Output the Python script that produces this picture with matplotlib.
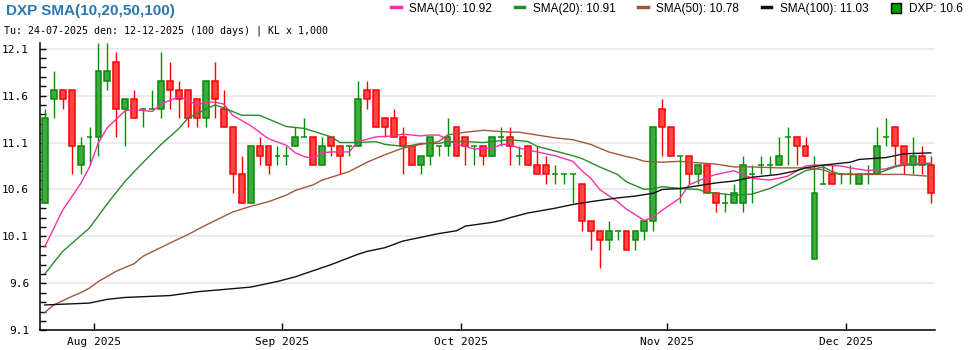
import numpy as np
import matplotlib
matplotlib.use('Agg')
import matplotlib.pyplot as plt
from matplotlib.lines import Line2D
from matplotlib.patches import Patch

# %% data: DXP daily candles, 24-07-2025 .. 12-12-2025 (100 trading days)
opens = [10.5, 11.6, 11.7, 11.7, 10.9, 11.2, 11.2, 11.8, 12.0, 11.5,
         11.6, 11.5, 11.5, 11.5, 11.8, 11.7, 11.7, 11.6, 11.4, 11.8,
         11.5, 11.3, 10.8, 10.5, 11.1, 11.1, 11.0, 11.0, 11.1, 11.2,
         11.2, 10.9, 11.2, 11.1, 11.1, 11.1, 11.7, 11.7, 11.4, 11.4,
         11.2, 11.1, 10.9, 11.0, 11.1, 11.1, 11.3, 11.2, 11.1, 11.1,
         11.0, 11.2, 11.2, 11.0, 11.1, 10.9, 10.9, 10.8, 10.8, 10.8,
         10.7, 10.3, 10.2, 10.1, 10.2, 10.2, 10.1, 10.2, 10.3, 11.5,
         11.3, 11.0, 11.0, 10.8, 10.9, 10.6, 10.5, 10.5, 10.5, 10.8,
         10.9, 10.9, 10.9, 11.2, 11.2, 11.1, 9.9, 10.7, 10.8, 10.8,
         10.8, 10.7, 10.8, 10.8, 11.2, 11.3, 11.1, 10.9, 11.0, 10.9]
highs = [11.5, 11.9, 11.7, 11.7, 11.2, 11.3, 12.2, 12.2, 12.1, 11.6,
         11.7, 11.5, 11.7, 12.1, 12.0, 11.8, 11.7, 11.6, 11.8, 12.0,
         11.7, 11.3, 11.0, 11.1, 11.2, 11.1, 11.1, 11.1, 11.3, 11.4,
         11.2, 11.2, 11.2, 11.1, 11.1, 11.8, 11.8, 11.7, 11.4, 11.5,
         11.3, 11.1, 11.0, 11.2, 11.1, 11.4, 11.3, 11.2, 11.1, 11.1,
         11.2, 11.3, 11.3, 11.1, 11.1, 11.1, 11.0, 10.9, 10.8, 10.8,
         10.7, 10.3, 10.2, 10.3, 10.2, 10.2, 10.2, 10.3, 11.3, 11.6,
         11.3, 11.0, 11.0, 10.9, 10.9, 10.6, 10.6, 10.7, 11.0, 10.9,
         11.0, 11.0, 11.2, 11.3, 11.2, 11.2, 11.0, 10.9, 10.9, 10.8,
         10.9, 10.8, 10.9, 11.3, 11.4, 11.3, 11.1, 11.2, 11.1, 11.0]
lows = [10.5, 11.4, 11.5, 10.8, 10.8, 10.9, 11.0, 11.7, 11.2, 11.1,
        11.4, 11.3, 11.5, 11.4, 11.5, 11.4, 11.3, 11.3, 11.3, 11.4,
        11.3, 10.6, 10.5, 10.5, 10.9, 10.8, 10.9, 10.9, 11.1, 11.2,
        10.9, 10.9, 11.0, 10.8, 11.0, 11.1, 11.5, 11.3, 11.2, 11.2,
        10.8, 10.9, 10.8, 10.9, 11.0, 11.0, 11.0, 10.9, 10.9, 10.9,
        11.0, 11.1, 10.9, 10.9, 10.9, 10.8, 10.7, 10.7, 10.7, 10.5,
        10.2, 10.0, 9.8, 10.0, 10.1, 10.0, 10.0, 10.1, 10.2, 11.0,
        11.0, 10.5, 10.7, 10.7, 10.6, 10.4, 10.4, 10.5, 10.4, 10.5,
        10.8, 10.8, 10.9, 10.9, 10.9, 11.0, 9.9, 10.7, 10.7, 10.7,
        10.7, 10.7, 10.7, 10.8, 11.1, 10.9, 10.8, 10.8, 10.8, 10.5]
closes = [11.4, 11.7, 11.6, 11.1, 11.1, 11.2, 11.9, 11.9, 11.5, 11.6,
          11.4, 11.5, 11.5, 11.8, 11.7, 11.6, 11.4, 11.4, 11.8, 11.6,
          11.3, 10.8, 10.5, 11.1, 11.0, 10.9, 11.0, 11.0, 11.2, 11.2,
          10.9, 11.1, 11.1, 11.0, 11.1, 11.6, 11.6, 11.3, 11.3, 11.2,
          11.1, 10.9, 11.0, 11.2, 11.1, 11.2, 11.0, 11.1, 11.1, 11.0,
          11.2, 11.2, 11.1, 11.0, 10.9, 10.8, 10.8, 10.8, 10.8, 10.8,
          10.3, 10.2, 10.1, 10.2, 10.2, 10.0, 10.2, 10.3, 11.3, 11.3,
          11.0, 11.0, 10.8, 10.9, 10.6, 10.5, 10.5, 10.6, 10.9, 10.8,
          10.9, 10.9, 11.0, 11.2, 11.1, 11.0, 10.6, 10.7, 10.7, 10.8,
          10.8, 10.8, 10.8, 11.1, 11.2, 11.1, 10.9, 11.0, 10.9, 10.6]

# moving averages (trading-day index, value)
sma10_day = [0, 2, 4, 5, 6, 7, 9, 10, 12, 13, 15, 16, 17, 18, 19, 20, 21, 23, 25, 27,
             28, 29, 30, 31, 32, 34, 35, 37, 39, 40, 42, 43, 44, 45, 46, 47, 48, 50, 51, 52,
             53, 55, 57, 59, 60, 61, 62, 64, 65, 67, 68, 69, 71, 72, 74, 75, 77, 78, 79, 81,
             83, 85, 86, 89, 90, 92, 94, 95, 96, 98, 99]
sma10_val = [10.03, 10.42, 10.70, 10.88, 11.14, 11.30, 11.48, 11.49, 11.47, 11.55,
             11.63, 11.59, 11.54, 11.57, 11.57, 11.55, 11.43, 11.32, 11.18, 11.11,
             11.03, 10.99, 10.97, 11.03, 11.04, 11.04, 11.15, 11.20, 11.21, 11.23,
             11.21, 11.22, 11.22, 11.17, 11.12, 11.10, 11.07, 11.08, 11.12, 11.12,
             11.08, 11.04, 11.00, 10.94, 10.84, 10.76, 10.64, 10.51, 10.43, 10.31,
             10.35, 10.42, 10.55, 10.69, 10.77, 10.80, 10.84, 10.80, 10.76, 10.74,
             10.78, 10.89, 10.90, 10.89, 10.87, 10.84, 10.86, 10.89, 10.91, 10.92, 10.92]
sma20_day = [0, 2, 5, 7, 9, 11, 13, 15, 16, 19, 20, 22, 24, 27, 28, 29, 30, 32, 33, 35,
             37, 38, 40, 41, 42, 44, 45, 47, 49, 51, 52, 54, 55, 57, 59, 60, 62, 64, 65, 67,
             68, 69, 71, 73, 74, 76, 77, 79, 81, 83, 85, 87, 88, 89, 91, 93, 95, 96, 98, 99]
sma20_val = [9.74, 9.98, 10.23, 10.49, 10.73, 10.93, 11.12, 11.29, 11.40, 11.54,
             11.51, 11.43, 11.43, 11.31, 11.30, 11.29, 11.26, 11.20, 11.14, 11.14,
             11.15, 11.12, 11.10, 11.11, 11.13, 11.13, 11.15, 11.15, 11.14, 11.16,
             11.17, 11.15, 11.10, 11.05, 11.00, 10.97, 10.88, 10.80, 10.72, 10.64,
             10.65, 10.67, 10.65, 10.64, 10.61, 10.59, 10.58, 10.59, 10.65, 10.74,
             10.84, 10.88, 10.83, 10.80, 10.80, 10.81, 10.88, 10.90, 10.91, 10.91]
sma50_day = [0, 1, 3, 4, 5, 6, 8, 10, 11, 14, 16, 18, 21, 23, 25, 27, 28, 30, 31, 34,
             36, 38, 40, 42, 44, 45, 47, 49, 52, 53, 55, 57, 59, 61, 63, 65, 66, 67, 69, 71,
             72, 75, 77, 79, 82, 85, 87, 88, 90, 93, 96, 99]
sma50_val = [9.33, 9.41, 9.50, 9.54, 9.59, 9.66, 9.77, 9.85, 9.93, 10.07,
             10.16, 10.26, 10.40, 10.46, 10.51, 10.58, 10.63, 10.69, 10.74, 10.83,
             10.93, 11.01, 11.08, 11.12, 11.15, 11.22, 11.25, 11.27, 11.25, 11.25,
             11.22, 11.19, 11.17, 11.12, 11.04, 10.99, 10.97, 10.94, 10.93, 10.94,
             10.93, 10.91, 10.88, 10.88, 10.87, 10.87, 10.85, 10.81, 10.80, 10.80,
             10.80, 10.78]
sma100_day = [0, 5, 7, 9, 14, 17, 23, 26, 28, 32, 35, 36, 38, 40, 42, 44, 46, 47, 50, 51,
              52, 54, 57, 59, 61, 64, 66, 68, 69, 71, 73, 75, 77, 79, 82, 84, 85, 87, 90, 91,
              94, 96, 99]
sma100_val = [9.41, 9.43, 9.47, 9.49, 9.51, 9.55, 9.60, 9.66, 9.71, 9.84,
              9.95, 9.98, 10.02, 10.09, 10.13, 10.17, 10.20, 10.25, 10.29, 10.31,
              10.34, 10.39, 10.44, 10.48, 10.51, 10.55, 10.57, 10.60, 10.64, 10.65,
              10.68, 10.71, 10.73, 10.77, 10.80, 10.84, 10.87, 10.90, 10.93, 10.96,
              10.98, 11.02, 11.03]

month_ticks = [6, 27, 47, 70, 90]
month_labels = ['Aug 2025', 'Sep 2025', 'Oct 2025', 'Nov 2025', 'Dec 2025']

# %% figure
mono = 'DejaVu Sans Mono'
sans = 'Liberation Sans'
W, H = 970, 350
fig = plt.figure(figsize=(W / 100, H / 100), dpi=100)
ax = fig.add_axes([40.3 / W, (H - 330.3) / H, 895 / W, (330.3 - 43) / H])

n = len(closes)
x = np.arange(n) + 0.5
o = np.array(opens)
c = np.array(closes)
up = c >= o
edge = np.where(up, '#078a07', '#ff0000')
fill = np.where(up, '#3dab3d', '#ff4545')

ax.vlines(x, lows, highs, colors=edge, lw=1, zorder=2)
ax.bar(x, np.abs(c - o), bottom=np.minimum(o, c), width=0.66, color=fill,
       edgecolor=edge, linewidth=1.1, zorder=3)

sma_styles = [('SMA(10)', sma10_day, sma10_val, '#ff2ea6'),
              ('SMA(20)', sma20_day, sma20_val, '#2a8a2a'),
              ('SMA(50)', sma50_day, sma50_val, '#a0583a'),
              ('SMA(100)', sma100_day, sma100_val, '#111111')]
for name, d, v, col in sma_styles:
    ax.plot(np.array(d) + 0.5, v, color=col, lw=1.0, zorder=4)

# axes cosmetics
ax.set_xlim(0, n)
ax.set_ylim(9.14, 12.2)
ax.set_yticks(np.arange(9.14, 12.15, 0.5))
ax.set_yticks(np.arange(9.14, 12.15, 0.1), minor=True)
ax.yaxis.set_major_formatter(matplotlib.ticker.FormatStrFormatter('%.1f'))
ax.set_xticks(month_ticks)
ax.set_xticklabels(month_labels)
ax.grid(axis='y', which='major', color='#e8e8e8', lw=1.2, zorder=0)
ax.set_axisbelow(True)
for s in ['top', 'right']:
    ax.spines[s].set_visible(False)
for s in ['left', 'bottom']:
    ax.spines[s].set_linewidth(1.1)
ax.tick_params(axis='y', which='both', direction='in', length=4, width=1, pad=8)
ax.tick_params(axis='x', direction='in', length=5, width=1, pad=5)
for lbl in ax.get_xticklabels() + ax.get_yticklabels():
    lbl.set_fontfamily(mono)
    lbl.set_fontsize(8)

# header texts
fig.text(6 / W, 1 - 11 / H, 'DXP SMA(10,20,50,100)', fontsize=11, fontweight='bold',
         color='#2a78b4', family=sans, va='center')
fig.text(4 / W, 1 - 31 / H, 'Tu: 24-07-2025 den: 12-12-2025 (100 days) | KL x 1,000',
         fontsize=7.2, family=mono, va='center')

handles = [Line2D([], [], color=col, lw=2.5) for _, _, _, col in sma_styles]
labels = [f'{name}: {v[-1]:.2f}' for name, _, v, _ in sma_styles]
handles.append(Patch(facecolor='#009900', edgecolor='black', lw=1))
labels.append(f'DXP: {closes[-1]:g}')
fig.legend(handles, labels, ncol=5, loc='upper right', bbox_to_anchor=(968 / W, 1.005),
           frameon=False, handlelength=0.8, handleheight=0.9, handletextpad=0.75,
           columnspacing=1.9, borderaxespad=0.0, prop={'family': sans, 'size': 8.5})

plt.savefig('out.png', dpi=100)
